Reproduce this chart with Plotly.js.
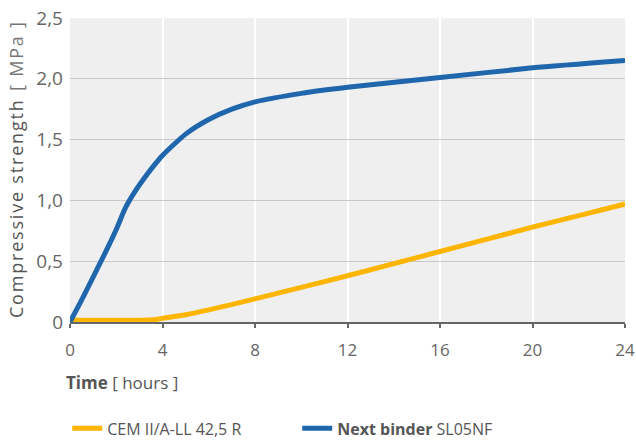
<!DOCTYPE html>
<html><head><meta charset="utf-8">
<script src="https://cdn.plot.ly/plotly-3.0.1.min.js"></script>
<style>html,body{margin:0;padding:0;background:#fff}#chart{width:636px;height:441px}</style>
</head><body><div id="chart"></div>
<script>
const cemHours = [0, 1, 2, 3, 3.6, 4, 5, 6, 8, 10, 12, 14, 16, 18, 20, 22, 24];
const cemStrength = [0.015, 0.015, 0.015, 0.015, 0.018, 0.03, 0.06, 0.1, 0.19, 0.285, 0.38, 0.48, 0.58, 0.68, 0.78, 0.875, 0.97];
const nextHours = [0, 0.5, 1, 1.5, 2, 2.4, 2.8, 3.2, 3.6, 4, 5, 6, 7, 8, 10, 12, 16, 20, 24];
const nextStrength = [0, 0.18, 0.37, 0.56, 0.76, 0.94, 1.07, 1.18, 1.28, 1.37, 1.545, 1.665, 1.75, 1.81, 1.88, 1.93, 2.01, 2.09, 2.15];
const xTicks = [0, 4, 8, 12, 16, 20, 24];
const yTickVals = [0, 0.5, 1, 1.5, 2, 2.5];
const yTickText = ['0', '0,5', '1,0', '1,5', '2,0', '2,5'];
const seriesNames = ['CEM II/A-LL 42,5 R', '<b>Next binder</b> SL05NF'];

const font = 'Open Sans, Noto Sans, sans-serif';
function spaced(s) { return s.split('').join('\u200A'); }
const traces = [
  {x: cemHours, y: cemStrength, name: seriesNames[0], type: 'scatter', mode: 'lines',
   line: {color: '#FDB500', width: 5, shape: 'spline', smoothing: 0.6}},
  {x: nextHours, y: nextStrength, name: seriesNames[1], type: 'scatter', mode: 'lines',
   line: {color: '#1F66AC', width: 5, shape: 'spline', smoothing: 0.6}}
];
const layout = {
  width: 636, height: 441,
  margin: {l: 70, r: 11, t: 18, b: 119, autoexpand: false},
  paper_bgcolor: '#ffffff', plot_bgcolor: '#efefef',
  font: {family: font, color: '#666666', size: 16},
  showlegend: true,
  legend: {orientation: 'h', x: -0.005, xanchor: 'left', y: -0.35, yanchor: 'middle',
           entrywidth: 185, entrywidthmode: 'pixels',
           font: {family: font, size: 16, color: '#555555'}, tracegroupgap: 0},
  xaxis: {range: [0, 24], tickvals: xTicks, showgrid: true, gridcolor: '#ffffff', gridwidth: 2,
          zeroline: false, showline: true, linecolor: '#666666', linewidth: 2,
          ticks: 'outside', ticklen: 4, tickcolor: '#666666', tickwidth: 2, ticklabelstandoff: 8,
          tickfont: {size: 17, color: '#666666'}, fixedrange: true},
  yaxis: {range: [0, 2.5], tickvals: yTickVals, ticktext: yTickText, showgrid: true,
          gridcolor: '#c8c8c8', gridwidth: 1, zeroline: false, showline: false,
          ticks: '', ticklabelstandoff: 6, tickfont: {size: 19, color: '#666666'},
          title: {text: spaced('Compressive strength') + '  <span style="fill:#777">' + spaced('[ MPa ]') + '</span>',
                  font: {size: 18, color: '#555555'}, standoff: 8}, fixedrange: true},
  annotations: [
    {xref: 'paper', yref: 'paper', x: -0.01, y: -0.2, xanchor: 'left', yanchor: 'middle', showarrow: false,
     text: '<b>Time</b> [ hours ]', font: {family: font, size: 17, color: '#555555'}}
  ]
};
Plotly.newPlot('chart', traces, layout, {displayModeBar: false, staticPlot: true});
</script></body></html>
